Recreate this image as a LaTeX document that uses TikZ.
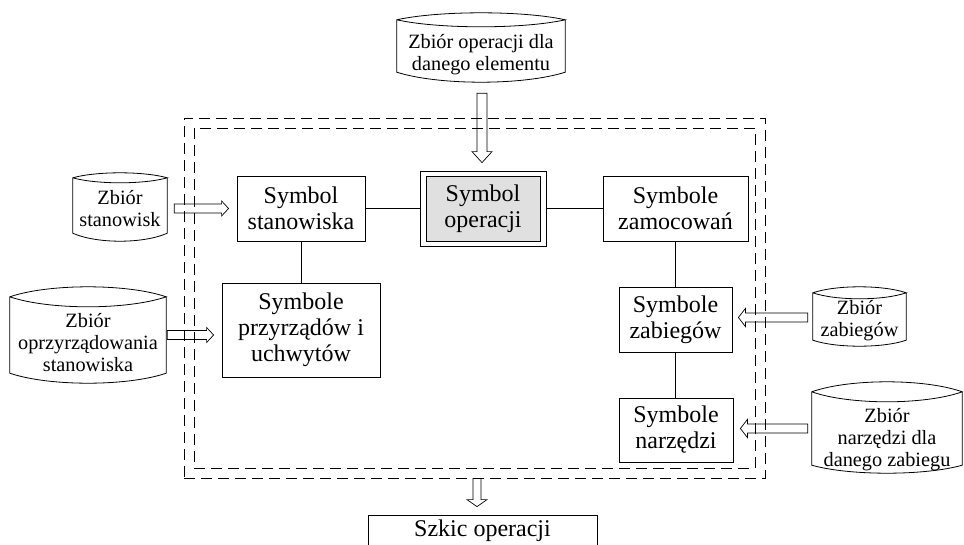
\documentclass[tikz,border=0pt]{standalone}
\usepackage{fontspec}
\setmainfont{Liberation Serif}
\usetikzlibrary{calc}
\tikzset{
  box/.style={draw, line width=0.8pt, align=center, inner sep=0pt, font=\fontsize{24}{26}\selectfont},
  dbbox/.style={rectangle, inner sep=0pt},
  dbtext/.style={align=center, inner sep=0pt, font=\fontsize{20.3}{22}\selectfont},
  dbline/.style={line width=0.8pt},
  blk/.style={draw, line width=0.7pt, line join=miter},
  frame/.style={draw, line width=0.9pt, dash pattern=on 11pt off 6pt, inner sep=0pt},
  conn/.style={line width=0.8pt},
}
% horizontal block arrow: start, end, shaft half, head half, head length
\newcommand\harr[5]{\draw[blk] let \p1=(#1), \p2=(#2), \n1={sign(\x2-\x1)} in
  ({\x1},{\y1+#3}) -- ({\x2-\n1*#5},{\y1+#3}) -- ({\x2-\n1*#5},{\y1+#4}) -- ({\x2},{\y1})
  -- ({\x2-\n1*#5},{\y1-#4}) -- ({\x2-\n1*#5},{\y1-#3}) -- ({\x1},{\y1-#3}) -- cycle;}
% vertical block arrow
\newcommand\varr[5]{\draw[blk] let \p1=(#1), \p2=(#2), \n1={sign(\y2-\y1)} in
  ({\x1+#3},{\y1}) -- ({\x1+#3},{\y2-\n1*#5}) -- ({\x1+#4},{\y2-\n1*#5}) -- ({\x1},{\y2})
  -- ({\x1-#4},{\y2-\n1*#5}) -- ({\x1-#3},{\y2-\n1*#5}) -- ({\x1-#3},{\y1}) -- cycle;}
% drum (data store) outline around a named node: name, top lens bulge, bottom bulge
\newcommand\drum[3]{\draw[dbline] let \p1=(#1.north west), \p2=(#1.south east), \n1={(\x2-\x1)/4} in
  ({\x1},{\y1}) .. controls ({\x1+\n1},{\y1+1.333*#2}) and ({\x2-\n1},{\y1+1.333*#2}) .. ({\x2},{\y1})
  .. controls ({\x2-\n1},{\y1-1.333*#2}) and ({\x1+\n1},{\y1-1.333*#2}) .. ({\x1},{\y1})
  -- ({\x1},{\y2}) .. controls ({\x1+\n1},{\y2-1.333*#3}) and ({\x2-\n1},{\y2-1.333*#3}) .. ({\x2},{\y2})
  -- ({\x2},{\y1});}
\begin{document}
\begin{tikzpicture}[x=1pt,y=-1pt]
\useasboundingbox (0,0) rectangle (964,544);

% dashed frames
\node[frame, minimum width=581pt, minimum height=360pt] (fo) at (474.5,298) {};
\node[frame, minimum width=561pt, minimum height=340pt] (fi) at (474.5,298) {};

% main boxes
\node[box, minimum width=128pt, minimum height=65pt] (ss) at (301,208.5) {Symbol\\stanowiska};
\node[box, minimum width=158pt, minimum height=94pt] (sp) at (301,330) {Symbole\\przyrządów i\\uchwytów};
\node[draw, line width=0.8pt, minimum width=126pt, minimum height=75pt, inner sep=0pt] (so) at (483,208.5) {};
\node[box, fill=black!12, minimum width=114pt, minimum height=65pt] (soi) at (483,208.5) {Symbol\\operacji};
\node[box, minimum width=145pt, minimum height=65pt] (sz) at (675.5,208.5) {Symbole\\zamocowań};
\node[box, minimum width=113pt, minimum height=65pt] (szb) at (675.5,319.5) {Symbole\\zabiegów};
\node[box, minimum width=114pt, minimum height=64pt] (sn) at (676,430) {Symbole\\narzędzi};
\node[box, minimum width=229pt, minimum height=32pt] (sk) at (482.5,531) {Szkic operacji};

% data stores
\node[dbbox, minimum width=168pt, minimum height=52pt] (zop) at (481,46) {};
\drum{zop}{7pt}{10pt}
\node[dbtext] (zopt) at (481,55) {Zbiór operacji dla\\danego elementu};

\node[dbbox, minimum width=94pt, minimum height=55pt] (zs) at (120,205.5) {};
\drum{zs}{5pt}{8pt}
\node[dbtext] (zst) at (120,209) {Zbiór\\stanowisk};

\node[dbbox, minimum width=156pt, minimum height=76pt] (zpr) at (88,335) {};
\drum{zpr}{10pt}{10pt}
\node[dbtext] (zprt) at (88,343) {Zbiór\\oprzyrządowania\\stanowiska};

\node[dbbox, minimum width=93pt, minimum height=47pt] (zz) at (859.5,316.5) {};
\drum{zz}{6pt}{6pt}
\node[dbtext] (zzt) at (859.5,321) {Zbiór\\zabiegów};

\node[dbbox, minimum width=150pt, minimum height=73pt] (zn) at (887,428.5) {};
\drum{zn}{10pt}{8pt}
\node[dbtext] (znt) at (887,440) {Zbiór\\narzędzi dla\\danego zabiegu};

% plain connectors
\draw[conn] (ss.east) -- (so.west);
\draw[conn] (so.east) -- (sz.west);
\draw[conn] (ss.south) -- (sp.north -| ss.south);
\draw[conn] (sz.south) -- (szb.north -| sz.south);
\draw[conn] (szb.south) -- (sn.north -| szb.south);

% block arrows
\coordinate (a1s) at ($(zs.east |- ss.west)+(7,0)$);
\coordinate (a1e) at ($(ss.west)+(-8,0)$);
\harr{a1s}{a1e}{4.5pt}{7.5pt}{7pt}
\coordinate (a2s) at ($(zpr.east)+(1,0)$);
\coordinate (a2e) at ($(sp.west |- zpr.east)+(-8,0)$);
\harr{a2s}{a2e}{4.5pt}{7.5pt}{7pt}
\coordinate (a3s) at ($(zz.west |- szb.east)+(-5,-2)$);
\coordinate (a3e) at ($(szb.east)+(6,-2)$);
\harr{a3s}{a3e}{4.5pt}{9pt}{7pt}
\coordinate (a4s) at ($(zn.west)+(-4,0)$);
\coordinate (a4e) at ($(sn.east |- zn.west)+(7,0)$);
\harr{a4s}{a4e}{4.5pt}{9pt}{7pt}
\coordinate (a5s) at ($(zop.south)+(1,21)$);
\coordinate (a5e) at ($(so.north)+(-1,-8)$);
\varr{a5s}{a5e}{5pt}{10pt}{11pt}
\coordinate (a6e) at ($(sk.north)+(-5.5,-8)$);
\coordinate (a6s) at (a6e |- fo.south);
\varr{a6s}{a6e}{4pt}{10pt}{7pt}
\end{tikzpicture}
\end{document}
